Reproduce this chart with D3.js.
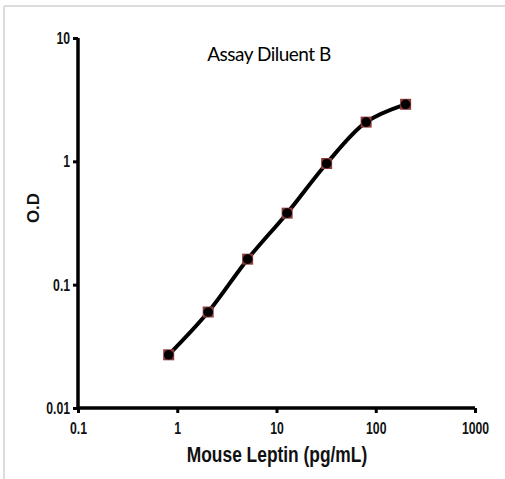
<!DOCTYPE html>
<html><head><meta charset="utf-8">
<script src="https://cdn.jsdelivr.net/npm/d3@7"></script>
<style>body{margin:0;background:#fff}svg{display:block}</style>
</head><body>
<script>
const concentrations = [0.82, 2.05, 5.12, 12.8, 32, 80, 200];
const odValues = [0.027, 0.060, 0.161, 0.38, 0.96, 2.08, 2.9];
const xTicks = [0.1, 1, 10, 100, 1000];
const yTicks = [0.01, 0.1, 1, 10];
const title = "Assay Diluent B";
const xLabel = "Mouse Leptin (pg/mL)";
const yLabel = "O.D";

const W = 505, H = 479;
const svg = d3.select("body").append("svg").attr("width", W).attr("height", H);

// frame lines
svg.append("line").attr("x1",4).attr("x2",W).attr("y1",6).attr("y2",6).attr("stroke","#dcdcdc").attr("stroke-width",2);
svg.append("line").attr("x1",4).attr("x2",4).attr("y1",6).attr("y2",H).attr("stroke","#dcdcdc").attr("stroke-width",2);

const x = d3.scaleLog().domain([0.1, 1000]).range([78, 475]);
const y = d3.scaleLog().domain([0.01, 10]).range([408, 38]);

const fmt = d => String(d);
const tickFont = "'Liberation Sans', Arial, sans-serif";

const xAxis = svg.append("g").attr("transform","translate(0,408)")
  .call(d3.axisBottom(x).tickValues(xTicks).tickFormat(fmt).tickSize(5).tickPadding(9));
const yAxis = svg.append("g").attr("transform","translate(78,0)")
  .call(d3.axisLeft(y).tickValues(yTicks).tickFormat(fmt).tickSize(5).tickPadding(6));
[xAxis, yAxis].forEach(g => {
  g.select(".domain").attr("stroke","#000").attr("stroke-width",3.5);
  g.selectAll(".tick line").attr("stroke","#000").attr("stroke-width",3);
  g.selectAll(".tick text").attr("fill","#111").style("font-family",tickFont)
    .style("font-weight","bold").style("font-size","17px").attr("transform","scale(0.72,1)");
});
xAxis.select(".domain").attr("d","M78,0H475");
yAxis.select(".domain").attr("d","M0,38V408");

// curve
const pts = concentrations.map((c,i)=>[x(c), y(odValues[i])]);
svg.append("path").attr("d", d3.line().curve(d3.curveCatmullRom.alpha(0.5))(pts))
  .attr("fill","none").attr("stroke","#000").attr("stroke-width",4);

// markers
svg.selectAll("rect.m").data(concentrations).join("rect")
  .attr("x",(d)=>x(d)-5.5).attr("y",(d,i)=>y(odValues[i])-5.5)
  .attr("width",11).attr("height",11).attr("fill","#8a3a3a");
svg.selectAll("circle.m").data(concentrations).join("circle")
  .attr("cx",d=>x(d)).attr("cy",(d,i)=>y(odValues[i])).attr("r",4.8).attr("fill","#000");

svg.append("text").attr("x",269).attr("y",61).attr("text-anchor","middle")
  .style("font-family","Lato, 'Open Sans', sans-serif").style("font-size","19px")
  .attr("letter-spacing","-0.5").attr("fill","#000").text(title);

svg.append("text").attr("transform","translate(277,462) scale(0.79,1)").attr("text-anchor","middle")
  .style("font-family",tickFont).style("font-weight","bold").style("font-size","22px")
  .attr("fill","#111").text(xLabel);

svg.append("text").attr("transform","translate(39,208) rotate(-90)").attr("text-anchor","middle")
  .style("font-family",tickFont).style("font-weight","bold").style("font-size","17px")
  .attr("fill","#111").text(yLabel);
</script>
</body></html>
